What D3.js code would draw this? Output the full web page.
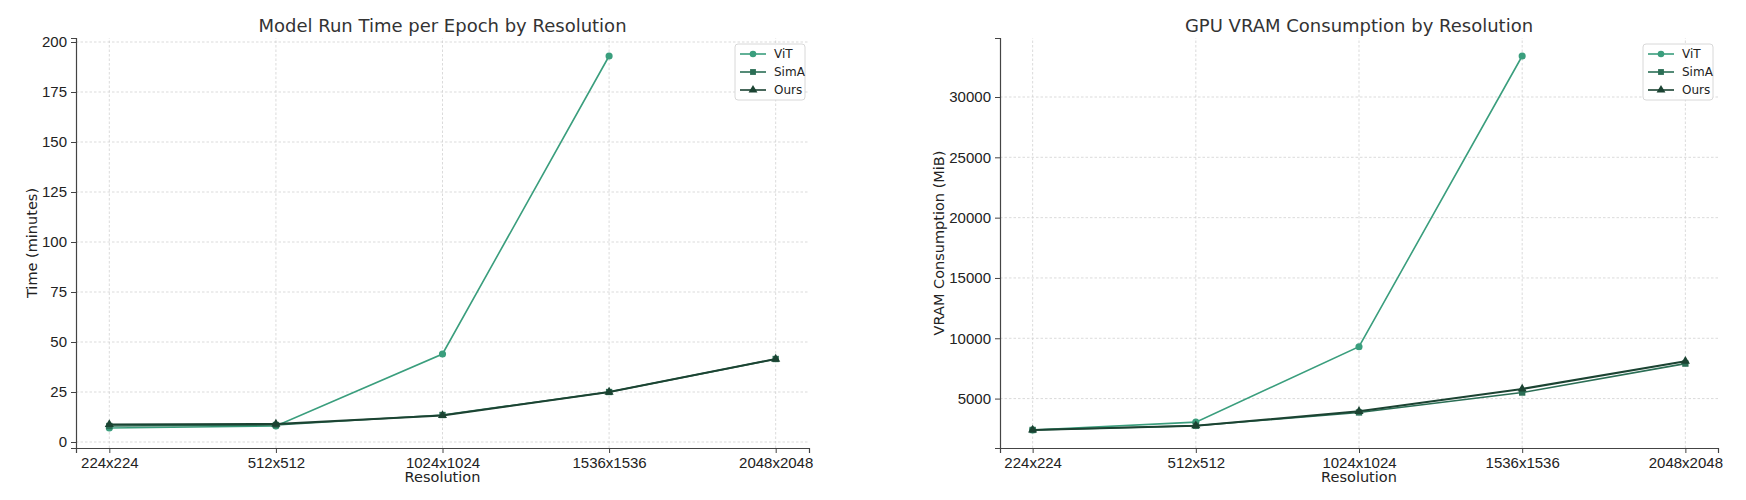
<!DOCTYPE html>
<html>
<head>
<meta charset="utf-8">
<script src="https://cdn.jsdelivr.net/npm/d3@7"></script>
<style>
  body { margin: 0; background: #fff; }
  svg { display: block; font-family: "DejaVu Sans", sans-serif; }
</style>
</head>
<body>
<div id="chart"></div>
<script>
// categories shared by both panels
var resolutions = ["224x224", "512x512", "1024x1024", "1536x1536", "2048x2048"];

// run time per epoch (minutes), ViT has no value at 2048
var time_vit  = [7, 8, 44, 193, null];
var time_sima = [8, 8.5, 13.5, 25, 41.5];
var time_ours = [8.8, 9, 13.3, 25, 41.5];
var time_ticks = [0, 25, 50, 75, 100, 125, 150, 175, 200];

// vram consumption (MiB)
var vram_vit  = [2400, 3050, 9300, 33400, null];
var vram_sima = [2400, 2750, 3850, 5500, 7900];
var vram_ours = [2400, 2750, 3950, 5800, 8100];
var vram_ticks = [5000, 10000, 15000, 20000, 25000, 30000];

var series_names = ["ViT", "SimA", "Ours"];
var colors = ["#3a9e7d", "#2b6e55", "#1b4332"];
var markers = [d3.symbolCircle, d3.symbolSquare, d3.symbolTriangle];

var width = 1746;
var height = 500;

var svg = d3.select("#chart").append("svg")
	.attr("width", width)
	.attr("height", height);

function draw_panel(opt) {
	var x = d3.scaleLinear().domain([-0.2, 4.2]).range([opt.left, opt.right]);
	var y = d3.scaleLinear().domain(opt.ydomain).range([448, 38]);

	var g = svg.append("g");

	// dashed grid
	var grid = g.append("g").attr("class", "grid");
	resolutions.forEach(function(r, i) {
		grid.append("line")
			.attr("x1", x(i)).attr("x2", x(i))
			.attr("y1", y.range()[0]).attr("y2", y.range()[1])
			.style("stroke", "#d2d2d2").style("stroke-width", 0.8)
			.style("stroke-dasharray", "2.5,2");
	});
	opt.ticks.forEach(function(t) {
		grid.append("line")
			.attr("x1", opt.left).attr("x2", opt.right)
			.attr("y1", y(t)).attr("y2", y(t))
			.style("stroke", "#d2d2d2").style("stroke-width", 0.8)
			.style("stroke-dasharray", "2.5,2");
	});

	// axes
	var xAxis = d3.axisBottom(x)
		.tickValues(d3.range(resolutions.length))
		.tickFormat(function(d) { return resolutions[d]; })
		.tickSizeOuter(0).tickSize(5).tickPadding(4);
	var yAxis = d3.axisLeft(y)
		.tickValues(opt.ticks)
		.tickFormat(d3.format("d"))
		.tickSizeOuter(0).tickSize(5).tickPadding(4);

	var xg = g.append("g").attr("transform", "translate(0,448)").call(xAxis);
	var yg = g.append("g").attr("transform", "translate(" + opt.left + ",0)").call(yAxis);
	[xg, yg].forEach(function(a) {
		a.select(".domain").style("stroke", "#444").style("stroke-width", 1.2);
		a.selectAll(".tick line").style("stroke", "#444");
		a.selectAll(".tick text").style("font-size", "15px").style("fill", "#222");
	});

	// series
	var line = d3.line()
		.defined(function(d) { return d != null; })
		.x(function(d, i) { return x(i); })
		.y(function(d) { return y(d); });

	opt.series.forEach(function(vals, s) {
		g.append("path")
			.datum(vals)
			.attr("d", line)
			.style("fill", "none")
			.style("stroke", colors[s])
			.style("stroke-width", s == 2 ? 2 : 1.6);

		g.selectAll(".m" + s)
			.data(vals.map(function(v, i) { return { v: v, i: i }; })
				.filter(function(d) { return d.v != null; }))
			.enter().append("path")
			.attr("class", "m" + s)
			.attr("transform", function(d) { return "translate(" + x(d.i) + "," + y(d.v) + ")"; })
			.attr("d", d3.symbol().type(markers[s]).size(s == 2 ? 36 : 40))
			.style("fill", colors[s]);
	});

	// titles
	var cx = (opt.left + opt.right) / 2;
	g.append("text")
		.attr("x", cx).attr("y", 32)
		.attr("text-anchor", "middle")
		.style("font-size", "18px").style("fill", "#333")
		.text(opt.title);

	g.append("text")
		.attr("x", x(2)).attr("y", 482)
		.attr("text-anchor", "middle")
		.style("font-size", "14.5px").style("fill", "#222")
		.text("Resolution");

	g.append("text")
		.attr("transform", "translate(" + opt.ylabel_x + ",243) rotate(-90)")
		.attr("text-anchor", "middle")
		.style("font-size", "14.5px").style("fill", "#222")
		.text(opt.ylabel);

	// legend
	var lg = g.append("g").attr("transform", "translate(" + opt.legend_x + ",44)");
	lg.append("rect")
		.attr("width", 70).attr("height", 56).attr("rx", 3)
		.style("fill", "#fff").style("fill-opacity", 0.85)
		.style("stroke", "#d8d8d8");
	series_names.forEach(function(name, s) {
		var ly = 10 + s * 18;
		lg.append("line")
			.attr("x1", 5).attr("x2", 31).attr("y1", ly).attr("y2", ly)
			.style("stroke", colors[s]).style("stroke-width", 1.6);
		lg.append("path")
			.attr("transform", "translate(18," + ly + ")")
			.attr("d", d3.symbol().type(markers[s]).size(34))
			.style("fill", colors[s]);
		lg.append("text")
			.attr("x", 39).attr("y", ly + 4)
			.style("font-size", "12px").style("fill", "#222")
			.text(name);
	});
}

draw_panel({
	left: 76, right: 809,
	ydomain: [-3, 202],
	ticks: time_ticks,
	series: [time_vit, time_sima, time_ours],
	title: "Model Run Time per Epoch by Resolution",
	ylabel: "Time (minutes)",
	ylabel_x: 37,
	legend_x: 735
});

draw_panel({
	left: 1000, right: 1718,
	ydomain: [904, 34892],
	ticks: vram_ticks,
	series: [vram_vit, vram_sima, vram_ours],
	title: "GPU VRAM Consumption by Resolution",
	ylabel: "VRAM Consumption (MiB)",
	ylabel_x: 944,
	legend_x: 1643
});
</script>
</body>
</html>
